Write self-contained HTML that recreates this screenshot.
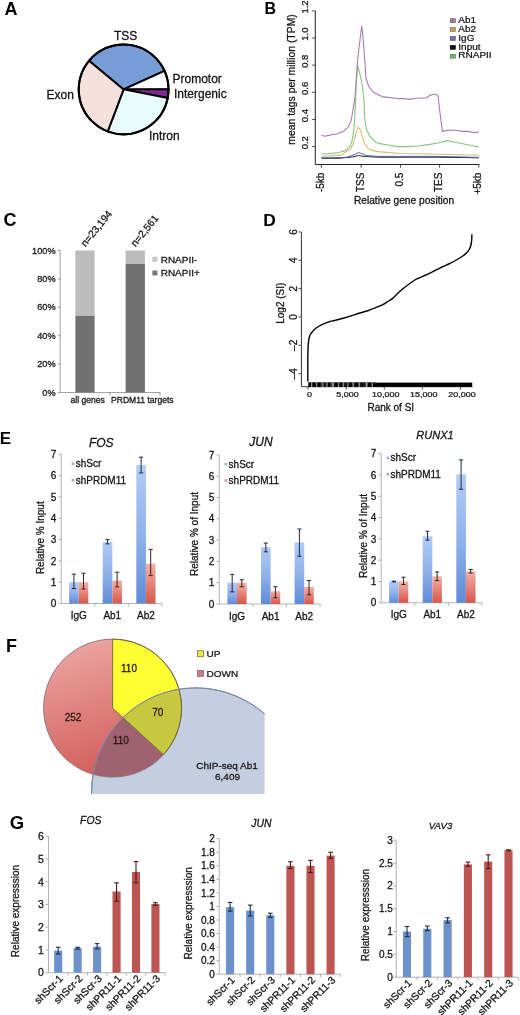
<!DOCTYPE html>
<html><head><meta charset="utf-8"><style>
html,body{margin:0;padding:0;background:#fff;}
svg{display:block;will-change:transform;}
text{font-family:"Liberation Sans",sans-serif;}
text.r{stroke:#222;stroke-width:0.28px;paint-order:stroke;}
</style></head><body>
<svg width="520" height="1015" viewBox="0 0 520 1015" font-family="Liberation Sans, sans-serif">
<defs><linearGradient id="gb" x1="0" y1="0" x2="0" y2="1"><stop offset="0" stop-color="#b2cbf5"/><stop offset="0.55" stop-color="#8dafea"/><stop offset="1" stop-color="#5e8ad8"/></linearGradient><linearGradient id="gr" x1="0" y1="0" x2="0" y2="1"><stop offset="0" stop-color="#f4b0a6"/><stop offset="1" stop-color="#d8564a"/></linearGradient><linearGradient id="gred" x1="0" y1="0" x2="0.3" y2="1"><stop offset="0" stop-color="#eeaaa8"/><stop offset="1" stop-color="#d2605c"/></linearGradient><clipPath id="cf"><rect x="0" y="0" width="264.6" height="794"/></clipPath><clipPath id="cred"><circle cx="112.6" cy="708.1" r="69"/></clipPath><clipPath id="cblue"><circle cx="195.7" cy="792.0" r="104.1"/></clipPath></defs>
<rect width="520" height="1015" fill="#fff"/>
<text x="4.50" y="15.00" font-size="18" text-anchor="start" font-weight="bold" font-style="normal" fill="#000">A</text>
<path d="M123.60,89.40 L164.49,70.85 A44.9,44.9 0 0 0 89.00,60.78 Z" fill="#789dd6" stroke="#000" stroke-width="1.9" stroke-linejoin="round"/>
<path d="M123.60,89.40 L168.50,89.16 A44.9,44.9 0 0 0 164.49,70.85 Z" fill="#ffffff" stroke="#000" stroke-width="1.9" stroke-linejoin="round"/>
<path d="M123.60,89.40 L167.66,98.04 A44.9,44.9 0 0 0 168.50,89.16 Z" fill="#7e2b8f" stroke="#000" stroke-width="1.9" stroke-linejoin="round"/>
<path d="M123.60,89.40 L107.73,131.40 A44.9,44.9 0 0 0 167.66,98.04 Z" fill="#e8fbfd" stroke="#000" stroke-width="1.9" stroke-linejoin="round"/>
<path d="M123.60,89.40 L89.00,60.78 A44.9,44.9 0 0 0 107.73,131.40 Z" fill="#f6e0de" stroke="#000" stroke-width="1.9" stroke-linejoin="round"/>
<circle cx="123.6" cy="89.4" r="44.9" fill="none" stroke="#000" stroke-width="2.0"/>
<text class="r" x="125.70" y="40.00" font-size="12" text-anchor="middle" font-weight="normal" font-style="normal" fill="#111">TSS</text>
<text class="r" x="172.50" y="82.50" font-size="12" text-anchor="start" font-weight="normal" font-style="normal" fill="#111">Promotor</text>
<text class="r" x="174.00" y="98.00" font-size="12" text-anchor="start" font-weight="normal" font-style="normal" fill="#111">Intergenic</text>
<text class="r" x="46.50" y="98.50" font-size="12" text-anchor="start" font-weight="normal" font-style="normal" fill="#111">Exon</text>
<text class="r" x="149.00" y="140.00" font-size="12" text-anchor="start" font-weight="normal" font-style="normal" fill="#111">Intron</text>
<text x="264.50" y="13.80" font-size="16" text-anchor="start" font-weight="bold" font-style="normal" fill="#000">B</text>
<line x1="315.30" y1="10.85" x2="315.30" y2="164.50" stroke="#222" stroke-width="1"/>
<line x1="315.30" y1="164.50" x2="479.40" y2="164.50" stroke="#222" stroke-width="1"/>
<line x1="312.10" y1="146.60" x2="315.30" y2="146.60" stroke="#222" stroke-width="0.8"/>
<text class="r" x="0.00" y="0.00" font-size="9.5" text-anchor="middle" font-weight="normal" font-style="normal" fill="#111" transform="translate(308.20,142.70) rotate(-90)">0.2</text>
<line x1="312.10" y1="119.45" x2="315.30" y2="119.45" stroke="#222" stroke-width="0.8"/>
<text class="r" x="0.00" y="0.00" font-size="9.5" text-anchor="middle" font-weight="normal" font-style="normal" fill="#111" transform="translate(308.20,115.55) rotate(-90)">0.4</text>
<line x1="312.10" y1="92.30" x2="315.30" y2="92.30" stroke="#222" stroke-width="0.8"/>
<text class="r" x="0.00" y="0.00" font-size="9.5" text-anchor="middle" font-weight="normal" font-style="normal" fill="#111" transform="translate(308.20,88.40) rotate(-90)">0.6</text>
<line x1="312.10" y1="65.15" x2="315.30" y2="65.15" stroke="#222" stroke-width="0.8"/>
<text class="r" x="0.00" y="0.00" font-size="9.5" text-anchor="middle" font-weight="normal" font-style="normal" fill="#111" transform="translate(308.20,61.25) rotate(-90)">0.8</text>
<line x1="312.10" y1="38.00" x2="315.30" y2="38.00" stroke="#222" stroke-width="0.8"/>
<text class="r" x="0.00" y="0.00" font-size="9.5" text-anchor="middle" font-weight="normal" font-style="normal" fill="#111" transform="translate(308.20,34.10) rotate(-90)">1.0</text>
<line x1="312.10" y1="10.85" x2="315.30" y2="10.85" stroke="#222" stroke-width="0.8"/>
<text class="r" x="0.00" y="0.00" font-size="9.5" text-anchor="middle" font-weight="normal" font-style="normal" fill="#111" transform="translate(308.20,6.95) rotate(-90)">1.2</text>
<line x1="321.40" y1="164.50" x2="321.40" y2="167.70" stroke="#222" stroke-width="0.8"/>
<text class="r" x="0.00" y="0.00" font-size="10" text-anchor="end" font-weight="normal" font-style="normal" fill="#111" transform="translate(324.00,172.60) rotate(-90)">-5kb</text>
<line x1="361.20" y1="164.50" x2="361.20" y2="167.70" stroke="#222" stroke-width="0.8"/>
<text class="r" x="0.00" y="0.00" font-size="10" text-anchor="end" font-weight="normal" font-style="normal" fill="#111" transform="translate(363.80,172.60) rotate(-90)">TSS</text>
<line x1="400.50" y1="164.50" x2="400.50" y2="167.70" stroke="#222" stroke-width="0.8"/>
<text class="r" x="0.00" y="0.00" font-size="10" text-anchor="end" font-weight="normal" font-style="normal" fill="#111" transform="translate(403.10,172.60) rotate(-90)">0.5</text>
<line x1="439.60" y1="164.50" x2="439.60" y2="167.70" stroke="#222" stroke-width="0.8"/>
<text class="r" x="0.00" y="0.00" font-size="10" text-anchor="end" font-weight="normal" font-style="normal" fill="#111" transform="translate(442.20,172.60) rotate(-90)">TES</text>
<line x1="478.80" y1="164.50" x2="478.80" y2="167.70" stroke="#222" stroke-width="0.8"/>
<text class="r" x="0.00" y="0.00" font-size="10" text-anchor="end" font-weight="normal" font-style="normal" fill="#111" transform="translate(481.40,172.60) rotate(-90)">+5kb</text>
<text class="r" x="404.00" y="203.70" font-size="10.2" text-anchor="middle" font-weight="normal" font-style="normal" fill="#111">Relative gene position</text>
<text class="r" x="0.00" y="0.00" font-size="10.4" text-anchor="middle" font-weight="normal" font-style="normal" fill="#111" transform="translate(294.50,79.50) rotate(-90)">mean tags per million (TPM)</text>
<polyline points="321.50,158.30 340.00,158.20 352.60,156.90 358.40,155.60 364.20,156.40 378.00,157.20 438.00,157.20 479.00,157.80" fill="none" stroke="#222" stroke-width="1.0" stroke-linejoin="round"/>
<polyline points="321.50,157.90 346.80,157.30 354.90,154.40 358.40,152.60 361.80,153.60 366.50,155.60 378.00,156.40 438.00,156.40 479.00,157.40" fill="none" stroke="#5560aa" stroke-width="1.0" stroke-linejoin="round"/>
<polyline points="321.50,156.20 341.00,155.10 344.50,152.80 350.30,149.20 353.80,142.30 356.10,133.10 357.80,127.10 360.10,129.60 362.40,136.50 364.70,143.50 367.60,148.10 372.20,150.40 378.00,151.60 400.00,153.50 440.00,154.20 479.00,155.20" fill="none" stroke="#d4c070" stroke-width="1.1" stroke-linejoin="round"/>
<polyline points="321.50,153.80 329.50,153.60 338.80,152.50 345.70,150.40 349.70,146.90 352.00,141.20 353.80,130.80 354.70,119.20 355.20,110.00 356.20,84.20 357.70,65.80 360.20,75.00 362.50,86.50 364.20,102.70 364.70,118.00 366.50,129.60 369.90,136.50 374.50,141.20 378.00,143.40 388.00,145.00 398.00,146.60 408.00,146.60 418.00,146.00 428.00,144.60 438.00,143.00 447.00,140.60 454.00,142.00 464.00,144.00 474.00,146.00 479.00,147.00" fill="none" stroke="#88c284" stroke-width="1.1" stroke-linejoin="round"/>
<polyline points="321.50,135.20 324.90,136.30 327.20,135.60 331.80,134.80 337.60,133.70 343.40,131.30 348.00,127.30 350.90,121.50 352.30,114.40 355.00,98.10 357.30,63.50 358.50,51.90 360.20,38.10 361.70,26.00 363.10,38.10 364.80,61.20 366.00,78.50 368.80,86.50 373.50,92.30 378.00,94.50 382.00,96.60 388.00,97.40 393.00,98.00 398.00,98.60 404.00,98.60 410.00,99.40 416.00,98.20 421.00,98.00 426.00,98.00 430.00,95.40 435.00,94.00 438.00,95.40 440.00,113.00 442.40,131.40 446.00,130.60 454.00,130.00 462.00,131.40 468.00,131.40 474.00,132.60 479.00,132.00" fill="none" stroke="#a67fac" stroke-width="1.1" stroke-linejoin="round"/>
<rect x="450.20" y="18.70" width="5.20" height="3.90" fill="#9f7a9c" stroke="#6a4a66" stroke-width="0.6"/>
<text class="r" x="0.00" y="0.00" font-size="10" text-anchor="start" font-weight="normal" font-style="normal" fill="#111" transform="translate(458.30,22.80) scale(1,0.87)">Ab1</text>
<rect x="450.20" y="27.60" width="5.20" height="3.90" fill="#bba060" stroke="#7a6a3a" stroke-width="0.6"/>
<text class="r" x="0.00" y="0.00" font-size="10" text-anchor="start" font-weight="normal" font-style="normal" fill="#111" transform="translate(458.30,31.70) scale(1,0.87)">Ab2</text>
<rect x="450.20" y="36.50" width="5.20" height="3.90" fill="#6c74aa" stroke="#454c80" stroke-width="0.6"/>
<text class="r" x="0.00" y="0.00" font-size="10" text-anchor="start" font-weight="normal" font-style="normal" fill="#111" transform="translate(458.30,40.60) scale(1,0.87)">IgG</text>
<rect x="450.20" y="45.40" width="5.20" height="3.90" fill="#111" stroke="#000" stroke-width="0.6"/>
<text class="r" x="0.00" y="0.00" font-size="10" text-anchor="start" font-weight="normal" font-style="normal" fill="#111" transform="translate(458.30,49.50) scale(1,0.87)">Input</text>
<rect x="450.20" y="54.30" width="5.20" height="3.90" fill="#7eaa78" stroke="#4e7a4a" stroke-width="0.6"/>
<text class="r" x="0.00" y="0.00" font-size="10" text-anchor="start" font-weight="normal" font-style="normal" fill="#111" transform="translate(458.30,58.40) scale(1,0.87)">RNAPII</text>
<text x="3.60" y="225.80" font-size="18" text-anchor="start" font-weight="bold" font-style="normal" fill="#000">C</text>
<line x1="60.20" y1="250.50" x2="60.20" y2="392.50" stroke="#999" stroke-width="0.9"/>
<line x1="60.20" y1="392.50" x2="160.00" y2="392.50" stroke="#999" stroke-width="0.9"/>
<line x1="58.00" y1="392.50" x2="60.20" y2="392.50" stroke="#888" stroke-width="0.9"/>
<text class="r" x="0.00" y="0.00" font-size="9.2" text-anchor="end" font-weight="normal" font-style="normal" fill="#111" transform="translate(55.60,395.60) scale(1,0.93)">0%</text>
<line x1="58.00" y1="364.10" x2="60.20" y2="364.10" stroke="#888" stroke-width="0.9"/>
<text class="r" x="0.00" y="0.00" font-size="9.2" text-anchor="end" font-weight="normal" font-style="normal" fill="#111" transform="translate(55.60,367.20) scale(1,0.93)">20%</text>
<line x1="58.00" y1="335.70" x2="60.20" y2="335.70" stroke="#888" stroke-width="0.9"/>
<text class="r" x="0.00" y="0.00" font-size="9.2" text-anchor="end" font-weight="normal" font-style="normal" fill="#111" transform="translate(55.60,338.80) scale(1,0.93)">40%</text>
<line x1="58.00" y1="307.30" x2="60.20" y2="307.30" stroke="#888" stroke-width="0.9"/>
<text class="r" x="0.00" y="0.00" font-size="9.2" text-anchor="end" font-weight="normal" font-style="normal" fill="#111" transform="translate(55.60,310.40) scale(1,0.93)">60%</text>
<line x1="58.00" y1="278.90" x2="60.20" y2="278.90" stroke="#888" stroke-width="0.9"/>
<text class="r" x="0.00" y="0.00" font-size="9.2" text-anchor="end" font-weight="normal" font-style="normal" fill="#111" transform="translate(55.60,282.00) scale(1,0.93)">80%</text>
<line x1="58.00" y1="250.50" x2="60.20" y2="250.50" stroke="#888" stroke-width="0.9"/>
<text class="r" x="0.00" y="0.00" font-size="9.2" text-anchor="end" font-weight="normal" font-style="normal" fill="#111" transform="translate(55.60,253.60) scale(1,0.93)">100%</text>
<line x1="110.00" y1="392.50" x2="110.00" y2="395.50" stroke="#888" stroke-width="0.9"/>
<line x1="160.00" y1="392.50" x2="160.00" y2="395.50" stroke="#888" stroke-width="0.9"/>
<rect x="75.40" y="250.50" width="19.20" height="65.32" fill="#bcbcbc" stroke="none" stroke-width="1"/>
<rect x="75.40" y="315.82" width="19.20" height="76.68" fill="#717171" stroke="none" stroke-width="1"/>
<rect x="125.60" y="250.50" width="19.30" height="13.49" fill="#bcbcbc" stroke="none" stroke-width="1"/>
<rect x="125.60" y="263.99" width="19.30" height="128.51" fill="#717171" stroke="none" stroke-width="1"/>
<text class="r" x="87.70" y="403.00" font-size="8.6" text-anchor="middle" font-weight="normal" font-style="normal" fill="#111">all genes</text>
<text class="r" x="142.30" y="403.00" font-size="8.55" text-anchor="middle" font-weight="normal" font-style="normal" fill="#111">PRDM11 targets</text>
<text class="r" x="0.00" y="0.00" font-size="10.2" text-anchor="start" font-weight="normal" font-style="normal" fill="#111" transform="translate(85.60,247.30) rotate(-51)">n=23,194</text>
<text class="r" x="0.00" y="0.00" font-size="10.2" text-anchor="start" font-weight="normal" font-style="normal" fill="#111" transform="translate(135.60,247.30) rotate(-51)">n=2,561</text>
<rect x="152.40" y="256.80" width="5.00" height="5.00" fill="#c4c4c4" stroke="none" stroke-width="1"/>
<text class="r" x="0.00" y="0.00" font-size="10" text-anchor="start" font-weight="normal" font-style="normal" fill="#111" transform="translate(160.70,263.20) scale(1,0.93)">RNAPII-</text>
<rect x="152.40" y="270.50" width="5.00" height="5.00" fill="#7a7a7a" stroke="none" stroke-width="1"/>
<text class="r" x="0.00" y="0.00" font-size="10" text-anchor="start" font-weight="normal" font-style="normal" fill="#111" transform="translate(160.70,275.80) scale(1,0.93)">RNAPII+</text>
<text x="263.20" y="225.60" font-size="17.4" text-anchor="start" font-weight="bold" font-style="normal" fill="#000">D</text>
<line x1="301.40" y1="231.95" x2="301.40" y2="386.70" stroke="#333" stroke-width="1"/>
<line x1="301.40" y1="386.70" x2="472.50" y2="386.70" stroke="#333" stroke-width="1"/>
<line x1="298.40" y1="231.95" x2="301.40" y2="231.95" stroke="#333" stroke-width="0.8"/>
<text class="r" x="0.00" y="0.00" font-size="10" text-anchor="middle" font-weight="normal" font-style="normal" fill="#111" transform="translate(297.00,231.95) rotate(-90)">6</text>
<line x1="298.40" y1="260.30" x2="301.40" y2="260.30" stroke="#333" stroke-width="0.8"/>
<text class="r" x="0.00" y="0.00" font-size="10" text-anchor="middle" font-weight="normal" font-style="normal" fill="#111" transform="translate(297.00,260.30) rotate(-90)">4</text>
<line x1="298.40" y1="288.65" x2="301.40" y2="288.65" stroke="#333" stroke-width="0.8"/>
<text class="r" x="0.00" y="0.00" font-size="10" text-anchor="middle" font-weight="normal" font-style="normal" fill="#111" transform="translate(297.00,288.65) rotate(-90)">2</text>
<line x1="298.40" y1="317.00" x2="301.40" y2="317.00" stroke="#333" stroke-width="0.8"/>
<text class="r" x="0.00" y="0.00" font-size="10" text-anchor="middle" font-weight="normal" font-style="normal" fill="#111" transform="translate(297.00,317.00) rotate(-90)">0</text>
<line x1="298.40" y1="345.35" x2="301.40" y2="345.35" stroke="#333" stroke-width="0.8"/>
<text class="r" x="0.00" y="0.00" font-size="10" text-anchor="middle" font-weight="normal" font-style="normal" fill="#111" transform="translate(297.00,345.35) rotate(-90)">&#8211;2</text>
<line x1="298.40" y1="373.70" x2="301.40" y2="373.70" stroke="#333" stroke-width="0.8"/>
<text class="r" x="0.00" y="0.00" font-size="10" text-anchor="middle" font-weight="normal" font-style="normal" fill="#111" transform="translate(297.00,373.70) rotate(-90)">&#8211;4</text>
<line x1="308.10" y1="386.70" x2="308.10" y2="389.70" stroke="#333" stroke-width="0.8"/>
<text class="r" x="0.00" y="0.00" font-size="9" text-anchor="middle" font-weight="normal" font-style="normal" fill="#111" transform="translate(309.50,396.70) scale(1,0.88)">0</text>
<line x1="346.20" y1="386.70" x2="346.20" y2="389.70" stroke="#333" stroke-width="0.8"/>
<text class="r" x="0.00" y="0.00" font-size="9" text-anchor="middle" font-weight="normal" font-style="normal" fill="#111" transform="translate(347.60,396.70) scale(1,0.88)">5,000</text>
<line x1="384.30" y1="386.70" x2="384.30" y2="389.70" stroke="#333" stroke-width="0.8"/>
<text class="r" x="0.00" y="0.00" font-size="9" text-anchor="middle" font-weight="normal" font-style="normal" fill="#111" transform="translate(385.70,396.70) scale(1,0.88)">10,000</text>
<line x1="422.40" y1="386.70" x2="422.40" y2="389.70" stroke="#333" stroke-width="0.8"/>
<text class="r" x="0.00" y="0.00" font-size="9" text-anchor="middle" font-weight="normal" font-style="normal" fill="#111" transform="translate(423.80,396.70) scale(1,0.88)">15,000</text>
<line x1="460.50" y1="386.70" x2="460.50" y2="389.70" stroke="#333" stroke-width="0.8"/>
<text class="r" x="0.00" y="0.00" font-size="9" text-anchor="middle" font-weight="normal" font-style="normal" fill="#111" transform="translate(461.90,396.70) scale(1,0.88)">20,000</text>
<text class="r" x="390.80" y="411.30" font-size="10" text-anchor="middle" font-weight="normal" font-style="normal" fill="#111">Rank of SI</text>
<text class="r" x="0.00" y="0.00" font-size="10" text-anchor="middle" font-weight="normal" font-style="normal" fill="#111" transform="translate(283.60,303.20) rotate(-90)">Log2 (SI)</text>
<rect x="308.00" y="382.60" width="164.20" height="4.30" fill="#000" stroke="none" stroke-width="1"/>
<rect x="308.00" y="382.60" width="67.00" height="4.30" fill="#3c3c3c" stroke="none" stroke-width="1"/>
<rect x="309.00" y="382.60" width="2.00" height="4.30" fill="#000" stroke="none" stroke-width="1"/>
<rect x="312.70" y="382.60" width="2.90" height="4.30" fill="#000" stroke="none" stroke-width="1"/>
<rect x="317.50" y="382.60" width="3.20" height="4.30" fill="#000" stroke="none" stroke-width="1"/>
<rect x="323.50" y="382.60" width="2.00" height="4.30" fill="#111" stroke="none" stroke-width="1"/>
<rect x="327.80" y="382.60" width="2.40" height="4.30" fill="#000" stroke="none" stroke-width="1"/>
<rect x="334.50" y="382.60" width="3.00" height="4.30" fill="#000" stroke="none" stroke-width="1"/>
<rect x="339.50" y="382.60" width="2.60" height="4.30" fill="#000" stroke="none" stroke-width="1"/>
<rect x="344.40" y="382.60" width="2.60" height="4.30" fill="#111" stroke="none" stroke-width="1"/>
<rect x="348.50" y="382.60" width="3.50" height="4.30" fill="#000" stroke="none" stroke-width="1"/>
<rect x="354.60" y="382.60" width="3.50" height="4.30" fill="#000" stroke="none" stroke-width="1"/>
<rect x="360.00" y="382.60" width="5.00" height="4.30" fill="#111" stroke="none" stroke-width="1"/>
<rect x="368.00" y="382.60" width="3.40" height="4.30" fill="#000" stroke="none" stroke-width="1"/>
<rect x="373.00" y="382.60" width="2.00" height="4.30" fill="#000" stroke="none" stroke-width="1"/>
<rect x="311.00" y="382.60" width="0.90" height="4.30" fill="#9a9a9a" stroke="none" stroke-width="1"/>
<rect x="316.20" y="382.60" width="0.90" height="4.30" fill="#9a9a9a" stroke="none" stroke-width="1"/>
<rect x="322.40" y="382.60" width="0.90" height="4.30" fill="#9a9a9a" stroke="none" stroke-width="1"/>
<rect x="326.70" y="382.60" width="0.80" height="4.30" fill="#9a9a9a" stroke="none" stroke-width="1"/>
<rect x="332.20" y="382.60" width="1.60" height="4.30" fill="#9a9a9a" stroke="none" stroke-width="1"/>
<rect x="338.30" y="382.60" width="0.80" height="4.30" fill="#9a9a9a" stroke="none" stroke-width="1"/>
<rect x="343.20" y="382.60" width="0.80" height="4.30" fill="#9a9a9a" stroke="none" stroke-width="1"/>
<rect x="347.50" y="382.60" width="0.80" height="4.30" fill="#9a9a9a" stroke="none" stroke-width="1"/>
<rect x="352.70" y="382.60" width="1.00" height="4.30" fill="#9a9a9a" stroke="none" stroke-width="1"/>
<rect x="358.70" y="382.60" width="1.00" height="4.30" fill="#9a9a9a" stroke="none" stroke-width="1"/>
<rect x="365.90" y="382.60" width="1.40" height="4.30" fill="#9a9a9a" stroke="none" stroke-width="1"/>
<rect x="371.80" y="382.60" width="0.90" height="4.30" fill="#9a9a9a" stroke="none" stroke-width="1"/>
<path d="M307.80,381.50 C307.80,377.53 307.75,363.58 307.80,357.70 C307.85,351.82 307.95,349.08 308.10,346.20 C308.25,343.32 308.42,342.13 308.70,340.40 C308.98,338.67 309.33,337.05 309.80,335.80 C310.27,334.55 310.73,333.97 311.50,332.90 C312.27,331.83 313.23,330.47 314.40,329.40 C315.57,328.33 317.05,327.37 318.50,326.50 C319.95,325.63 321.38,324.97 323.10,324.20 C324.82,323.43 327.17,322.47 328.80,321.90 C330.43,321.33 331.93,321.03 332.90,320.80 C333.87,320.57 333.35,320.80 334.60,320.50 C335.85,320.20 338.47,319.53 340.40,319.00 C342.33,318.47 344.28,317.87 346.20,317.30 C348.12,316.73 350.43,316.05 351.90,315.60 C353.37,315.15 353.37,315.12 355.00,314.60 C356.63,314.08 359.45,313.18 361.70,312.50 C363.95,311.82 366.25,311.28 368.50,310.50 C370.75,309.72 372.97,308.70 375.20,307.80 C377.43,306.90 379.67,306.23 381.90,305.10 C384.13,303.97 386.80,302.12 388.60,301.00 C390.40,299.88 391.12,299.73 392.70,298.40 C394.28,297.07 396.30,294.68 398.10,293.00 C399.90,291.32 401.72,289.77 403.50,288.30 C405.28,286.83 406.78,285.67 408.80,284.20 C410.82,282.73 413.73,280.60 415.60,279.50 C417.47,278.40 418.30,278.35 420.00,277.60 C421.70,276.85 423.88,275.88 425.80,275.00 C427.72,274.12 429.58,273.23 431.50,272.30 C433.42,271.37 435.37,270.37 437.30,269.40 C439.23,268.43 441.18,267.40 443.10,266.50 C445.02,265.60 446.88,264.92 448.80,264.00 C450.72,263.08 452.67,262.08 454.60,261.00 C456.53,259.92 458.67,258.60 460.40,257.50 C462.13,256.40 463.65,255.55 465.00,254.40 C466.35,253.25 467.53,252.03 468.50,250.60 C469.47,249.17 470.27,247.57 470.80,245.80 C471.33,244.03 471.52,241.93 471.70,240.00 C471.88,238.07 471.87,235.17 471.90,234.20" fill="none" stroke="#000" stroke-width="1.4" stroke-linejoin="round"/>
<text x="-0.20" y="444.40" font-size="17" text-anchor="start" font-weight="bold" font-style="normal" fill="#000">E</text>
<line x1="61.20" y1="454.40" x2="61.20" y2="603.50" stroke="#aaa" stroke-width="0.9"/>
<line x1="61.20" y1="603.50" x2="162.00" y2="603.50" stroke="#aaa" stroke-width="0.9"/>
<line x1="58.20" y1="603.50" x2="61.20" y2="603.50" stroke="#aaa" stroke-width="0.9"/>
<text class="r" x="56.20" y="607.10" font-size="10" text-anchor="end" font-weight="normal" font-style="normal" fill="#111">0</text>
<line x1="58.20" y1="582.20" x2="61.20" y2="582.20" stroke="#aaa" stroke-width="0.9"/>
<text class="r" x="56.20" y="585.80" font-size="10" text-anchor="end" font-weight="normal" font-style="normal" fill="#111">1</text>
<line x1="58.20" y1="560.90" x2="61.20" y2="560.90" stroke="#aaa" stroke-width="0.9"/>
<text class="r" x="56.20" y="564.50" font-size="10" text-anchor="end" font-weight="normal" font-style="normal" fill="#111">2</text>
<line x1="58.20" y1="539.60" x2="61.20" y2="539.60" stroke="#aaa" stroke-width="0.9"/>
<text class="r" x="56.20" y="543.20" font-size="10" text-anchor="end" font-weight="normal" font-style="normal" fill="#111">3</text>
<line x1="58.20" y1="518.30" x2="61.20" y2="518.30" stroke="#aaa" stroke-width="0.9"/>
<text class="r" x="56.20" y="521.90" font-size="10" text-anchor="end" font-weight="normal" font-style="normal" fill="#111">4</text>
<line x1="58.20" y1="497.00" x2="61.20" y2="497.00" stroke="#aaa" stroke-width="0.9"/>
<text class="r" x="56.20" y="500.60" font-size="10" text-anchor="end" font-weight="normal" font-style="normal" fill="#111">5</text>
<line x1="58.20" y1="475.70" x2="61.20" y2="475.70" stroke="#aaa" stroke-width="0.9"/>
<text class="r" x="56.20" y="479.30" font-size="10" text-anchor="end" font-weight="normal" font-style="normal" fill="#111">6</text>
<line x1="58.20" y1="454.40" x2="61.20" y2="454.40" stroke="#aaa" stroke-width="0.9"/>
<text class="r" x="56.20" y="458.00" font-size="10" text-anchor="end" font-weight="normal" font-style="normal" fill="#111">7</text>
<line x1="94.80" y1="603.50" x2="94.80" y2="606.50" stroke="#aaa" stroke-width="0.9"/>
<line x1="128.40" y1="603.50" x2="128.40" y2="606.50" stroke="#aaa" stroke-width="0.9"/>
<line x1="162.00" y1="603.50" x2="162.00" y2="606.50" stroke="#aaa" stroke-width="0.9"/>
<rect x="69.10" y="582.20" width="9.60" height="21.30" fill="url(#gb)" stroke="none" stroke-width="1"/>
<rect x="78.70" y="582.20" width="9.60" height="21.30" fill="url(#gr)" stroke="none" stroke-width="1"/>
<line x1="73.90" y1="574.11" x2="73.90" y2="588.59" stroke="#1c2c48" stroke-width="1"/>
<line x1="71.80" y1="574.11" x2="76.00" y2="574.11" stroke="#1c2c48" stroke-width="1"/>
<line x1="71.80" y1="588.59" x2="76.00" y2="588.59" stroke="#1c2c48" stroke-width="1"/>
<line x1="83.50" y1="573.25" x2="83.50" y2="589.02" stroke="#3a2222" stroke-width="1"/>
<line x1="81.40" y1="573.25" x2="85.60" y2="573.25" stroke="#3a2222" stroke-width="1"/>
<line x1="81.40" y1="589.02" x2="85.60" y2="589.02" stroke="#3a2222" stroke-width="1"/>
<text class="r" x="78.70" y="619.00" font-size="10" text-anchor="middle" font-weight="normal" font-style="normal" fill="#111">IgG</text>
<rect x="102.70" y="542.16" width="9.60" height="61.34" fill="url(#gb)" stroke="none" stroke-width="1"/>
<rect x="112.30" y="580.50" width="9.60" height="23.00" fill="url(#gr)" stroke="none" stroke-width="1"/>
<line x1="107.50" y1="539.60" x2="107.50" y2="543.86" stroke="#1c2c48" stroke-width="1"/>
<line x1="105.40" y1="539.60" x2="109.60" y2="539.60" stroke="#1c2c48" stroke-width="1"/>
<line x1="105.40" y1="543.86" x2="109.60" y2="543.86" stroke="#1c2c48" stroke-width="1"/>
<line x1="117.10" y1="572.19" x2="117.10" y2="586.89" stroke="#3a2222" stroke-width="1"/>
<line x1="115.00" y1="572.19" x2="119.20" y2="572.19" stroke="#3a2222" stroke-width="1"/>
<line x1="115.00" y1="586.89" x2="119.20" y2="586.89" stroke="#3a2222" stroke-width="1"/>
<text class="r" x="112.30" y="619.00" font-size="10" text-anchor="middle" font-weight="normal" font-style="normal" fill="#111">Ab1</text>
<rect x="136.30" y="465.05" width="9.60" height="138.45" fill="url(#gb)" stroke="none" stroke-width="1"/>
<rect x="145.90" y="563.67" width="9.60" height="39.83" fill="url(#gr)" stroke="none" stroke-width="1"/>
<line x1="141.10" y1="457.17" x2="141.10" y2="472.93" stroke="#1c2c48" stroke-width="1"/>
<line x1="139.00" y1="457.17" x2="143.20" y2="457.17" stroke="#1c2c48" stroke-width="1"/>
<line x1="139.00" y1="472.93" x2="143.20" y2="472.93" stroke="#1c2c48" stroke-width="1"/>
<line x1="150.70" y1="549.40" x2="150.70" y2="575.60" stroke="#3a2222" stroke-width="1"/>
<line x1="148.60" y1="549.40" x2="152.80" y2="549.40" stroke="#3a2222" stroke-width="1"/>
<line x1="148.60" y1="575.60" x2="152.80" y2="575.60" stroke="#3a2222" stroke-width="1"/>
<text class="r" x="145.90" y="619.00" font-size="10" text-anchor="middle" font-weight="normal" font-style="normal" fill="#111">Ab2</text>
<text class="r" x="101.30" y="446.50" font-size="12" text-anchor="middle" font-weight="normal" font-style="italic" fill="#111">FOS</text>
<text class="r" x="0.00" y="0.00" font-size="10" text-anchor="middle" font-weight="normal" font-style="normal" fill="#111" transform="translate(43.50,537.70) rotate(-90)">Relative % Input</text>
<rect x="71.70" y="462.50" width="2.60" height="2.80" fill="#9cb4e0" stroke="none" stroke-width="1"/>
<text class="r" x="75.70" y="467.30" font-size="10" text-anchor="start" font-weight="normal" font-style="normal" fill="#111">shScr</text>
<rect x="71.70" y="478.90" width="2.60" height="2.80" fill="#d8a09c" stroke="none" stroke-width="1"/>
<text class="r" x="75.70" y="483.70" font-size="10" text-anchor="start" font-weight="normal" font-style="normal" fill="#111">shPRDM11</text>
<line x1="219.30" y1="454.90" x2="219.30" y2="604.00" stroke="#aaa" stroke-width="0.9"/>
<line x1="219.30" y1="604.00" x2="320.10" y2="604.00" stroke="#aaa" stroke-width="0.9"/>
<line x1="216.30" y1="604.00" x2="219.30" y2="604.00" stroke="#aaa" stroke-width="0.9"/>
<text class="r" x="214.30" y="607.60" font-size="10" text-anchor="end" font-weight="normal" font-style="normal" fill="#111">0</text>
<line x1="216.30" y1="582.70" x2="219.30" y2="582.70" stroke="#aaa" stroke-width="0.9"/>
<text class="r" x="214.30" y="586.30" font-size="10" text-anchor="end" font-weight="normal" font-style="normal" fill="#111">1</text>
<line x1="216.30" y1="561.40" x2="219.30" y2="561.40" stroke="#aaa" stroke-width="0.9"/>
<text class="r" x="214.30" y="565.00" font-size="10" text-anchor="end" font-weight="normal" font-style="normal" fill="#111">2</text>
<line x1="216.30" y1="540.10" x2="219.30" y2="540.10" stroke="#aaa" stroke-width="0.9"/>
<text class="r" x="214.30" y="543.70" font-size="10" text-anchor="end" font-weight="normal" font-style="normal" fill="#111">3</text>
<line x1="216.30" y1="518.80" x2="219.30" y2="518.80" stroke="#aaa" stroke-width="0.9"/>
<text class="r" x="214.30" y="522.40" font-size="10" text-anchor="end" font-weight="normal" font-style="normal" fill="#111">4</text>
<line x1="216.30" y1="497.50" x2="219.30" y2="497.50" stroke="#aaa" stroke-width="0.9"/>
<text class="r" x="214.30" y="501.10" font-size="10" text-anchor="end" font-weight="normal" font-style="normal" fill="#111">5</text>
<line x1="216.30" y1="476.20" x2="219.30" y2="476.20" stroke="#aaa" stroke-width="0.9"/>
<text class="r" x="214.30" y="479.80" font-size="10" text-anchor="end" font-weight="normal" font-style="normal" fill="#111">6</text>
<line x1="216.30" y1="454.90" x2="219.30" y2="454.90" stroke="#aaa" stroke-width="0.9"/>
<text class="r" x="214.30" y="458.50" font-size="10" text-anchor="end" font-weight="normal" font-style="normal" fill="#111">7</text>
<line x1="252.90" y1="604.00" x2="252.90" y2="607.00" stroke="#aaa" stroke-width="0.9"/>
<line x1="286.50" y1="604.00" x2="286.50" y2="607.00" stroke="#aaa" stroke-width="0.9"/>
<line x1="320.10" y1="604.00" x2="320.10" y2="607.00" stroke="#aaa" stroke-width="0.9"/>
<rect x="227.40" y="582.70" width="9.60" height="21.30" fill="url(#gb)" stroke="none" stroke-width="1"/>
<rect x="237.00" y="582.70" width="9.60" height="21.30" fill="url(#gr)" stroke="none" stroke-width="1"/>
<line x1="232.20" y1="574.39" x2="232.20" y2="591.86" stroke="#1c2c48" stroke-width="1"/>
<line x1="230.10" y1="574.39" x2="234.30" y2="574.39" stroke="#1c2c48" stroke-width="1"/>
<line x1="230.10" y1="591.86" x2="234.30" y2="591.86" stroke="#1c2c48" stroke-width="1"/>
<line x1="241.80" y1="579.72" x2="241.80" y2="586.75" stroke="#3a2222" stroke-width="1"/>
<line x1="239.70" y1="579.72" x2="243.90" y2="579.72" stroke="#3a2222" stroke-width="1"/>
<line x1="239.70" y1="586.75" x2="243.90" y2="586.75" stroke="#3a2222" stroke-width="1"/>
<text class="r" x="237.00" y="619.50" font-size="10" text-anchor="middle" font-weight="normal" font-style="normal" fill="#111">IgG</text>
<rect x="261.00" y="547.13" width="9.60" height="56.87" fill="url(#gb)" stroke="none" stroke-width="1"/>
<rect x="270.60" y="591.22" width="9.60" height="12.78" fill="url(#gr)" stroke="none" stroke-width="1"/>
<line x1="265.80" y1="543.08" x2="265.80" y2="551.82" stroke="#1c2c48" stroke-width="1"/>
<line x1="263.70" y1="543.08" x2="267.90" y2="543.08" stroke="#1c2c48" stroke-width="1"/>
<line x1="263.70" y1="551.82" x2="267.90" y2="551.82" stroke="#1c2c48" stroke-width="1"/>
<line x1="275.40" y1="586.75" x2="275.40" y2="597.82" stroke="#3a2222" stroke-width="1"/>
<line x1="273.30" y1="586.75" x2="277.50" y2="586.75" stroke="#3a2222" stroke-width="1"/>
<line x1="273.30" y1="597.82" x2="277.50" y2="597.82" stroke="#3a2222" stroke-width="1"/>
<text class="r" x="270.60" y="619.50" font-size="10" text-anchor="middle" font-weight="normal" font-style="normal" fill="#111">Ab1</text>
<rect x="294.60" y="542.44" width="9.60" height="61.56" fill="url(#gb)" stroke="none" stroke-width="1"/>
<rect x="304.20" y="586.96" width="9.60" height="17.04" fill="url(#gr)" stroke="none" stroke-width="1"/>
<line x1="299.40" y1="529.02" x2="299.40" y2="556.29" stroke="#1c2c48" stroke-width="1"/>
<line x1="297.30" y1="529.02" x2="301.50" y2="529.02" stroke="#1c2c48" stroke-width="1"/>
<line x1="297.30" y1="556.29" x2="301.50" y2="556.29" stroke="#1c2c48" stroke-width="1"/>
<line x1="309.00" y1="580.57" x2="309.00" y2="594.84" stroke="#3a2222" stroke-width="1"/>
<line x1="306.90" y1="580.57" x2="311.10" y2="580.57" stroke="#3a2222" stroke-width="1"/>
<line x1="306.90" y1="594.84" x2="311.10" y2="594.84" stroke="#3a2222" stroke-width="1"/>
<text class="r" x="304.20" y="619.50" font-size="10" text-anchor="middle" font-weight="normal" font-style="normal" fill="#111">Ab2</text>
<text class="r" x="260.90" y="446.30" font-size="12" text-anchor="middle" font-weight="normal" font-style="italic" fill="#111">JUN</text>
<text class="r" x="0.00" y="0.00" font-size="10" text-anchor="middle" font-weight="normal" font-style="normal" fill="#111" transform="translate(198.00,534.00) rotate(-90)">Relative % of Input</text>
<rect x="224.60" y="462.70" width="2.60" height="2.80" fill="#9cb4e0" stroke="none" stroke-width="1"/>
<text class="r" x="228.60" y="467.50" font-size="10" text-anchor="start" font-weight="normal" font-style="normal" fill="#111">shScr</text>
<rect x="224.60" y="479.10" width="2.60" height="2.80" fill="#d8a09c" stroke="none" stroke-width="1"/>
<text class="r" x="228.60" y="483.90" font-size="10" text-anchor="start" font-weight="normal" font-style="normal" fill="#111">shPRDM11</text>
<line x1="381.20" y1="453.70" x2="381.20" y2="602.80" stroke="#aaa" stroke-width="0.9"/>
<line x1="381.20" y1="602.80" x2="482.00" y2="602.80" stroke="#aaa" stroke-width="0.9"/>
<line x1="378.20" y1="602.80" x2="381.20" y2="602.80" stroke="#aaa" stroke-width="0.9"/>
<text class="r" x="376.20" y="606.40" font-size="10" text-anchor="end" font-weight="normal" font-style="normal" fill="#111">0</text>
<line x1="378.20" y1="581.50" x2="381.20" y2="581.50" stroke="#aaa" stroke-width="0.9"/>
<text class="r" x="376.20" y="585.10" font-size="10" text-anchor="end" font-weight="normal" font-style="normal" fill="#111">1</text>
<line x1="378.20" y1="560.20" x2="381.20" y2="560.20" stroke="#aaa" stroke-width="0.9"/>
<text class="r" x="376.20" y="563.80" font-size="10" text-anchor="end" font-weight="normal" font-style="normal" fill="#111">2</text>
<line x1="378.20" y1="538.90" x2="381.20" y2="538.90" stroke="#aaa" stroke-width="0.9"/>
<text class="r" x="376.20" y="542.50" font-size="10" text-anchor="end" font-weight="normal" font-style="normal" fill="#111">3</text>
<line x1="378.20" y1="517.60" x2="381.20" y2="517.60" stroke="#aaa" stroke-width="0.9"/>
<text class="r" x="376.20" y="521.20" font-size="10" text-anchor="end" font-weight="normal" font-style="normal" fill="#111">4</text>
<line x1="378.20" y1="496.30" x2="381.20" y2="496.30" stroke="#aaa" stroke-width="0.9"/>
<text class="r" x="376.20" y="499.90" font-size="10" text-anchor="end" font-weight="normal" font-style="normal" fill="#111">5</text>
<line x1="378.20" y1="475.00" x2="381.20" y2="475.00" stroke="#aaa" stroke-width="0.9"/>
<text class="r" x="376.20" y="478.60" font-size="10" text-anchor="end" font-weight="normal" font-style="normal" fill="#111">6</text>
<line x1="378.20" y1="453.70" x2="381.20" y2="453.70" stroke="#aaa" stroke-width="0.9"/>
<text class="r" x="376.20" y="457.30" font-size="10" text-anchor="end" font-weight="normal" font-style="normal" fill="#111">7</text>
<line x1="414.80" y1="602.80" x2="414.80" y2="605.80" stroke="#aaa" stroke-width="0.9"/>
<line x1="448.40" y1="602.80" x2="448.40" y2="605.80" stroke="#aaa" stroke-width="0.9"/>
<line x1="482.00" y1="602.80" x2="482.00" y2="605.80" stroke="#aaa" stroke-width="0.9"/>
<rect x="389.10" y="581.50" width="9.60" height="21.30" fill="url(#gb)" stroke="none" stroke-width="1"/>
<rect x="398.70" y="581.50" width="9.60" height="21.30" fill="url(#gr)" stroke="none" stroke-width="1"/>
<line x1="393.90" y1="581.07" x2="393.90" y2="581.93" stroke="#1c2c48" stroke-width="1"/>
<line x1="391.80" y1="581.07" x2="396.00" y2="581.07" stroke="#1c2c48" stroke-width="1"/>
<line x1="391.80" y1="581.93" x2="396.00" y2="581.93" stroke="#1c2c48" stroke-width="1"/>
<line x1="403.50" y1="577.24" x2="403.50" y2="584.48" stroke="#3a2222" stroke-width="1"/>
<line x1="401.40" y1="577.24" x2="405.60" y2="577.24" stroke="#3a2222" stroke-width="1"/>
<line x1="401.40" y1="584.48" x2="405.60" y2="584.48" stroke="#3a2222" stroke-width="1"/>
<text class="r" x="398.70" y="618.30" font-size="10" text-anchor="middle" font-weight="normal" font-style="normal" fill="#111">IgG</text>
<rect x="422.70" y="536.34" width="9.60" height="66.46" fill="url(#gb)" stroke="none" stroke-width="1"/>
<rect x="432.30" y="576.39" width="9.60" height="26.41" fill="url(#gr)" stroke="none" stroke-width="1"/>
<line x1="427.50" y1="531.23" x2="427.50" y2="540.18" stroke="#1c2c48" stroke-width="1"/>
<line x1="425.40" y1="531.23" x2="429.60" y2="531.23" stroke="#1c2c48" stroke-width="1"/>
<line x1="425.40" y1="540.18" x2="429.60" y2="540.18" stroke="#1c2c48" stroke-width="1"/>
<line x1="437.10" y1="571.91" x2="437.10" y2="580.65" stroke="#3a2222" stroke-width="1"/>
<line x1="435.00" y1="571.91" x2="439.20" y2="571.91" stroke="#3a2222" stroke-width="1"/>
<line x1="435.00" y1="580.65" x2="439.20" y2="580.65" stroke="#3a2222" stroke-width="1"/>
<text class="r" x="432.30" y="618.30" font-size="10" text-anchor="middle" font-weight="normal" font-style="normal" fill="#111">Ab1</text>
<rect x="456.30" y="474.36" width="9.60" height="128.44" fill="url(#gb)" stroke="none" stroke-width="1"/>
<rect x="465.90" y="571.49" width="9.60" height="31.31" fill="url(#gr)" stroke="none" stroke-width="1"/>
<line x1="461.10" y1="459.88" x2="461.10" y2="489.27" stroke="#1c2c48" stroke-width="1"/>
<line x1="459.00" y1="459.88" x2="463.20" y2="459.88" stroke="#1c2c48" stroke-width="1"/>
<line x1="459.00" y1="489.27" x2="463.20" y2="489.27" stroke="#1c2c48" stroke-width="1"/>
<line x1="470.70" y1="569.57" x2="470.70" y2="572.98" stroke="#3a2222" stroke-width="1"/>
<line x1="468.60" y1="569.57" x2="472.80" y2="569.57" stroke="#3a2222" stroke-width="1"/>
<line x1="468.60" y1="572.98" x2="472.80" y2="572.98" stroke="#3a2222" stroke-width="1"/>
<text class="r" x="465.90" y="618.30" font-size="10" text-anchor="middle" font-weight="normal" font-style="normal" fill="#111">Ab2</text>
<text class="r" x="435.00" y="439.30" font-size="11" text-anchor="middle" font-weight="normal" font-style="italic" fill="#111">RUNX1</text>
<text class="r" x="0.00" y="0.00" font-size="10" text-anchor="middle" font-weight="normal" font-style="normal" fill="#111" transform="translate(367.00,536.00) rotate(-90)">Relative % of Input</text>
<rect x="386.50" y="456.60" width="2.60" height="2.80" fill="#9cb4e0" stroke="none" stroke-width="1"/>
<text class="r" x="390.50" y="461.40" font-size="10" text-anchor="start" font-weight="normal" font-style="normal" fill="#111">shScr</text>
<rect x="386.50" y="472.90" width="2.60" height="2.80" fill="#d8a09c" stroke="none" stroke-width="1"/>
<text class="r" x="390.50" y="477.70" font-size="10" text-anchor="start" font-weight="normal" font-style="normal" fill="#111">shPRDM11</text>
<text x="6.00" y="652.30" font-size="18" text-anchor="start" font-weight="bold" font-style="normal" fill="#000">F</text>
<circle cx="112.6" cy="708.1" r="69" fill="url(#gred)"/>
<path d="M112.6,708.1 L112.6,639.1 A69,69 0 0 1 163.47,754.72 Z" fill="#ffff33"/>
<g clip-path="url(#cf)"><circle cx="195.7" cy="792.0" r="104.1" fill="#c3cee0" stroke="#7f8fae" stroke-width="1"/></g>
<g clip-path="url(#cred)"><g clip-path="url(#cf)"><circle cx="195.7" cy="792.0" r="104.1" fill="#a06270"/><path d="M112.6,708.1 L112.6,639.1 A69,69 0 0 1 163.47,754.72 Z" fill="#c8c840" clip-path="url(#cblue)"/></g></g>
<circle cx="112.6" cy="708.1" r="69" fill="none" stroke="#8a6f74" stroke-width="0.9"/>
<path d="M112.6,708.1 L112.6,639.1 A69,69 0 0 1 163.47,754.72 Z" fill="none" stroke="#6f6a3a" stroke-width="0.9"/>
<g clip-path="url(#cf)"><circle cx="195.7" cy="792.0" r="104.1" fill="none" stroke="#7d86a0" stroke-width="1"/></g>
<text class="r" x="129.00" y="672.00" font-size="10" text-anchor="middle" font-weight="normal" font-style="normal" fill="#2a1414">110</text>
<text class="r" x="73.00" y="720.50" font-size="10" text-anchor="middle" font-weight="normal" font-style="normal" fill="#2a1414">252</text>
<text class="r" x="157.70" y="715.80" font-size="10" text-anchor="middle" font-weight="normal" font-style="normal" fill="#2a1414">70</text>
<text class="r" x="120.80" y="744.40" font-size="10" text-anchor="middle" font-weight="normal" font-style="normal" fill="#2a1414">110</text>
<text class="r" x="0.00" y="0.00" font-size="10" text-anchor="middle" font-weight="normal" font-style="normal" fill="#111" transform="translate(227.00,768.60) scale(1,0.92)">ChIP-seq Ab1</text>
<text class="r" x="0.00" y="0.00" font-size="10" text-anchor="middle" font-weight="normal" font-style="normal" fill="#111" transform="translate(227.50,780.20) scale(1,0.92)">6,409</text>
<rect x="197.60" y="650.70" width="6.00" height="6.00" fill="#e8e844" stroke="#6a6a30" stroke-width="0.7"/>
<text class="r" x="0.00" y="0.00" font-size="10" text-anchor="start" font-weight="normal" font-style="normal" fill="#111" transform="translate(206.50,657.00) scale(1,0.89)">UP</text>
<rect x="197.60" y="670.50" width="6.00" height="6.00" fill="#c87a86" stroke="#8a5a64" stroke-width="0.7"/>
<text class="r" x="0.00" y="0.00" font-size="10" text-anchor="start" font-weight="normal" font-style="normal" fill="#111" transform="translate(206.50,676.80) scale(1,0.89)">DOWN</text>
<text x="9.80" y="829.20" font-size="18.5" text-anchor="start" font-weight="bold" font-style="normal" fill="#000">G</text>
<line x1="48.50" y1="836.32" x2="48.50" y2="972.70" stroke="#aaa" stroke-width="0.9"/>
<line x1="48.50" y1="972.70" x2="165.18" y2="972.70" stroke="#aaa" stroke-width="0.9"/>
<line x1="45.50" y1="972.70" x2="48.50" y2="972.70" stroke="#aaa" stroke-width="0.9"/>
<text class="r" x="43.80" y="976.48" font-size="10.5" text-anchor="end" font-weight="normal" font-style="normal" fill="#111">0</text>
<line x1="45.50" y1="949.97" x2="48.50" y2="949.97" stroke="#aaa" stroke-width="0.9"/>
<text class="r" x="43.80" y="953.75" font-size="10.5" text-anchor="end" font-weight="normal" font-style="normal" fill="#111">1</text>
<line x1="45.50" y1="927.24" x2="48.50" y2="927.24" stroke="#aaa" stroke-width="0.9"/>
<text class="r" x="43.80" y="931.02" font-size="10.5" text-anchor="end" font-weight="normal" font-style="normal" fill="#111">2</text>
<line x1="45.50" y1="904.51" x2="48.50" y2="904.51" stroke="#aaa" stroke-width="0.9"/>
<text class="r" x="43.80" y="908.29" font-size="10.5" text-anchor="end" font-weight="normal" font-style="normal" fill="#111">3</text>
<line x1="45.50" y1="881.78" x2="48.50" y2="881.78" stroke="#aaa" stroke-width="0.9"/>
<text class="r" x="43.80" y="885.56" font-size="10.5" text-anchor="end" font-weight="normal" font-style="normal" fill="#111">4</text>
<line x1="45.50" y1="859.05" x2="48.50" y2="859.05" stroke="#aaa" stroke-width="0.9"/>
<text class="r" x="43.80" y="862.83" font-size="10.5" text-anchor="end" font-weight="normal" font-style="normal" fill="#111">5</text>
<line x1="45.50" y1="836.32" x2="48.50" y2="836.32" stroke="#aaa" stroke-width="0.9"/>
<text class="r" x="43.80" y="840.10" font-size="10.5" text-anchor="end" font-weight="normal" font-style="normal" fill="#111">6</text>
<line x1="67.92" y1="972.70" x2="67.92" y2="975.70" stroke="#aaa" stroke-width="0.9"/>
<line x1="87.38" y1="972.70" x2="87.38" y2="975.70" stroke="#aaa" stroke-width="0.9"/>
<line x1="106.83" y1="972.70" x2="106.83" y2="975.70" stroke="#aaa" stroke-width="0.9"/>
<line x1="126.28" y1="972.70" x2="126.28" y2="975.70" stroke="#aaa" stroke-width="0.9"/>
<line x1="145.72" y1="972.70" x2="145.72" y2="975.70" stroke="#aaa" stroke-width="0.9"/>
<line x1="165.18" y1="972.70" x2="165.18" y2="975.70" stroke="#aaa" stroke-width="0.9"/>
<rect x="54.15" y="950.65" width="8.10" height="22.05" fill="#6c91cb" stroke="none" stroke-width="1"/>
<line x1="58.20" y1="947.24" x2="58.20" y2="954.06" stroke="#1a2a4a" stroke-width="1.1"/>
<line x1="55.90" y1="947.24" x2="60.50" y2="947.24" stroke="#1a2a4a" stroke-width="1.1"/>
<line x1="55.90" y1="954.06" x2="60.50" y2="954.06" stroke="#1a2a4a" stroke-width="1.1"/>
<text class="r" x="0.00" y="0.00" font-size="10.3" text-anchor="end" font-weight="normal" font-style="normal" fill="#111" transform="translate(63.60,979.30) rotate(-45)">shScr-1</text>
<rect x="73.60" y="948.15" width="8.10" height="24.55" fill="#6c91cb" stroke="none" stroke-width="1"/>
<line x1="77.65" y1="947.24" x2="77.65" y2="949.06" stroke="#1a2a4a" stroke-width="1.1"/>
<line x1="75.35" y1="947.24" x2="79.95" y2="947.24" stroke="#1a2a4a" stroke-width="1.1"/>
<line x1="75.35" y1="949.06" x2="79.95" y2="949.06" stroke="#1a2a4a" stroke-width="1.1"/>
<text class="r" x="0.00" y="0.00" font-size="10.3" text-anchor="end" font-weight="normal" font-style="normal" fill="#111" transform="translate(83.05,979.30) rotate(-45)">shScr-2</text>
<rect x="93.05" y="946.56" width="8.10" height="26.14" fill="#6c91cb" stroke="none" stroke-width="1"/>
<line x1="97.10" y1="943.61" x2="97.10" y2="948.83" stroke="#1a2a4a" stroke-width="1.1"/>
<line x1="94.80" y1="943.61" x2="99.40" y2="943.61" stroke="#1a2a4a" stroke-width="1.1"/>
<line x1="94.80" y1="948.83" x2="99.40" y2="948.83" stroke="#1a2a4a" stroke-width="1.1"/>
<text class="r" x="0.00" y="0.00" font-size="10.3" text-anchor="end" font-weight="normal" font-style="normal" fill="#111" transform="translate(102.50,979.30) rotate(-45)">shScr-3</text>
<rect x="112.50" y="891.55" width="8.10" height="81.15" fill="#bd5653" stroke="none" stroke-width="1"/>
<line x1="116.55" y1="882.80" x2="116.55" y2="901.19" stroke="#4a1818" stroke-width="1.1"/>
<line x1="114.25" y1="882.80" x2="118.85" y2="882.80" stroke="#4a1818" stroke-width="1.1"/>
<line x1="114.25" y1="901.19" x2="118.85" y2="901.19" stroke="#4a1818" stroke-width="1.1"/>
<text class="r" x="0.00" y="0.00" font-size="10.3" text-anchor="end" font-weight="normal" font-style="normal" fill="#111" transform="translate(121.95,979.30) rotate(-45)">shPR11-1</text>
<rect x="131.95" y="872.01" width="8.10" height="100.69" fill="#bd5653" stroke="none" stroke-width="1"/>
<line x1="136.00" y1="861.55" x2="136.00" y2="882.80" stroke="#4a1818" stroke-width="1.1"/>
<line x1="133.70" y1="861.55" x2="138.30" y2="861.55" stroke="#4a1818" stroke-width="1.1"/>
<line x1="133.70" y1="882.80" x2="138.30" y2="882.80" stroke="#4a1818" stroke-width="1.1"/>
<text class="r" x="0.00" y="0.00" font-size="10.3" text-anchor="end" font-weight="normal" font-style="normal" fill="#111" transform="translate(141.40,979.30) rotate(-45)">shPR11-2</text>
<rect x="151.40" y="904.06" width="8.10" height="68.64" fill="#bd5653" stroke="none" stroke-width="1"/>
<line x1="155.45" y1="902.69" x2="155.45" y2="905.42" stroke="#4a1818" stroke-width="1.1"/>
<line x1="153.15" y1="902.69" x2="157.75" y2="902.69" stroke="#4a1818" stroke-width="1.1"/>
<line x1="153.15" y1="905.42" x2="157.75" y2="905.42" stroke="#4a1818" stroke-width="1.1"/>
<text class="r" x="0.00" y="0.00" font-size="10.3" text-anchor="end" font-weight="normal" font-style="normal" fill="#111" transform="translate(160.85,979.30) rotate(-45)">shPR11-3</text>
<text class="r" x="90.80" y="824.00" font-size="10.4" text-anchor="middle" font-weight="normal" font-style="italic" fill="#111">FOS</text>
<text class="r" x="0.00" y="0.00" font-size="10" text-anchor="middle" font-weight="normal" font-style="normal" fill="#111" transform="translate(19.40,911.00) rotate(-90)">Relative expresssion</text>
<line x1="219.30" y1="838.70" x2="219.30" y2="974.20" stroke="#aaa" stroke-width="0.9"/>
<line x1="219.30" y1="974.20" x2="340.65" y2="974.20" stroke="#aaa" stroke-width="0.9"/>
<line x1="216.30" y1="974.20" x2="219.30" y2="974.20" stroke="#aaa" stroke-width="0.9"/>
<text class="r" x="214.80" y="977.80" font-size="10" text-anchor="end" font-weight="normal" font-style="normal" fill="#111">0</text>
<line x1="216.30" y1="960.65" x2="219.30" y2="960.65" stroke="#aaa" stroke-width="0.9"/>
<text class="r" x="214.80" y="964.25" font-size="10" text-anchor="end" font-weight="normal" font-style="normal" fill="#111">0.2</text>
<line x1="216.30" y1="947.10" x2="219.30" y2="947.10" stroke="#aaa" stroke-width="0.9"/>
<text class="r" x="214.80" y="950.70" font-size="10" text-anchor="end" font-weight="normal" font-style="normal" fill="#111">0.4</text>
<line x1="216.30" y1="933.55" x2="219.30" y2="933.55" stroke="#aaa" stroke-width="0.9"/>
<text class="r" x="214.80" y="937.15" font-size="10" text-anchor="end" font-weight="normal" font-style="normal" fill="#111">0.6</text>
<line x1="216.30" y1="920.00" x2="219.30" y2="920.00" stroke="#aaa" stroke-width="0.9"/>
<text class="r" x="214.80" y="923.60" font-size="10" text-anchor="end" font-weight="normal" font-style="normal" fill="#111">0.8</text>
<line x1="216.30" y1="906.45" x2="219.30" y2="906.45" stroke="#aaa" stroke-width="0.9"/>
<text class="r" x="214.80" y="910.05" font-size="10" text-anchor="end" font-weight="normal" font-style="normal" fill="#111">1</text>
<line x1="216.30" y1="892.90" x2="219.30" y2="892.90" stroke="#aaa" stroke-width="0.9"/>
<text class="r" x="214.80" y="896.50" font-size="10" text-anchor="end" font-weight="normal" font-style="normal" fill="#111">1.2</text>
<line x1="216.30" y1="879.35" x2="219.30" y2="879.35" stroke="#aaa" stroke-width="0.9"/>
<text class="r" x="214.80" y="882.95" font-size="10" text-anchor="end" font-weight="normal" font-style="normal" fill="#111">1.4</text>
<line x1="216.30" y1="865.80" x2="219.30" y2="865.80" stroke="#aaa" stroke-width="0.9"/>
<text class="r" x="214.80" y="869.40" font-size="10" text-anchor="end" font-weight="normal" font-style="normal" fill="#111">1.6</text>
<line x1="216.30" y1="852.25" x2="219.30" y2="852.25" stroke="#aaa" stroke-width="0.9"/>
<text class="r" x="214.80" y="855.85" font-size="10" text-anchor="end" font-weight="normal" font-style="normal" fill="#111">1.8</text>
<line x1="216.30" y1="838.70" x2="219.30" y2="838.70" stroke="#aaa" stroke-width="0.9"/>
<text class="r" x="214.80" y="842.30" font-size="10" text-anchor="end" font-weight="normal" font-style="normal" fill="#111">2</text>
<line x1="240.15" y1="974.20" x2="240.15" y2="977.20" stroke="#aaa" stroke-width="0.9"/>
<line x1="260.25" y1="974.20" x2="260.25" y2="977.20" stroke="#aaa" stroke-width="0.9"/>
<line x1="280.35" y1="974.20" x2="280.35" y2="977.20" stroke="#aaa" stroke-width="0.9"/>
<line x1="300.45" y1="974.20" x2="300.45" y2="977.20" stroke="#aaa" stroke-width="0.9"/>
<line x1="320.55" y1="974.20" x2="320.55" y2="977.20" stroke="#aaa" stroke-width="0.9"/>
<line x1="340.65" y1="974.20" x2="340.65" y2="977.20" stroke="#aaa" stroke-width="0.9"/>
<rect x="226.05" y="907.13" width="8.10" height="67.07" fill="#6c91cb" stroke="none" stroke-width="1"/>
<line x1="230.10" y1="902.38" x2="230.10" y2="911.19" stroke="#1a2a4a" stroke-width="1.1"/>
<line x1="227.80" y1="902.38" x2="232.40" y2="902.38" stroke="#1a2a4a" stroke-width="1.1"/>
<line x1="227.80" y1="911.19" x2="232.40" y2="911.19" stroke="#1a2a4a" stroke-width="1.1"/>
<text class="r" x="0.00" y="0.00" font-size="10.3" text-anchor="end" font-weight="normal" font-style="normal" fill="#111" transform="translate(235.50,980.80) rotate(-45)">shScr-1</text>
<rect x="246.15" y="910.52" width="8.10" height="63.68" fill="#6c91cb" stroke="none" stroke-width="1"/>
<line x1="250.20" y1="905.10" x2="250.20" y2="915.94" stroke="#1a2a4a" stroke-width="1.1"/>
<line x1="247.90" y1="905.10" x2="252.50" y2="905.10" stroke="#1a2a4a" stroke-width="1.1"/>
<line x1="247.90" y1="915.94" x2="252.50" y2="915.94" stroke="#1a2a4a" stroke-width="1.1"/>
<text class="r" x="0.00" y="0.00" font-size="10.3" text-anchor="end" font-weight="normal" font-style="normal" fill="#111" transform="translate(255.60,980.80) rotate(-45)">shScr-2</text>
<rect x="266.25" y="915.26" width="8.10" height="58.94" fill="#6c91cb" stroke="none" stroke-width="1"/>
<line x1="270.30" y1="913.23" x2="270.30" y2="917.29" stroke="#1a2a4a" stroke-width="1.1"/>
<line x1="268.00" y1="913.23" x2="272.60" y2="913.23" stroke="#1a2a4a" stroke-width="1.1"/>
<line x1="268.00" y1="917.29" x2="272.60" y2="917.29" stroke="#1a2a4a" stroke-width="1.1"/>
<text class="r" x="0.00" y="0.00" font-size="10.3" text-anchor="end" font-weight="normal" font-style="normal" fill="#111" transform="translate(275.70,980.80) rotate(-45)">shScr-3</text>
<rect x="286.35" y="865.80" width="8.10" height="108.40" fill="#bd5653" stroke="none" stroke-width="1"/>
<line x1="290.40" y1="861.74" x2="290.40" y2="868.51" stroke="#4a1818" stroke-width="1.1"/>
<line x1="288.10" y1="861.74" x2="292.70" y2="861.74" stroke="#4a1818" stroke-width="1.1"/>
<line x1="288.10" y1="868.51" x2="292.70" y2="868.51" stroke="#4a1818" stroke-width="1.1"/>
<text class="r" x="0.00" y="0.00" font-size="10.3" text-anchor="end" font-weight="normal" font-style="normal" fill="#111" transform="translate(295.80,980.80) rotate(-45)">shPR11-1</text>
<rect x="306.45" y="865.80" width="8.10" height="108.40" fill="#bd5653" stroke="none" stroke-width="1"/>
<line x1="310.50" y1="860.38" x2="310.50" y2="872.58" stroke="#4a1818" stroke-width="1.1"/>
<line x1="308.20" y1="860.38" x2="312.80" y2="860.38" stroke="#4a1818" stroke-width="1.1"/>
<line x1="308.20" y1="872.58" x2="312.80" y2="872.58" stroke="#4a1818" stroke-width="1.1"/>
<text class="r" x="0.00" y="0.00" font-size="10.3" text-anchor="end" font-weight="normal" font-style="normal" fill="#111" transform="translate(315.90,980.80) rotate(-45)">shPR11-2</text>
<rect x="326.55" y="855.64" width="8.10" height="118.56" fill="#bd5653" stroke="none" stroke-width="1"/>
<line x1="330.60" y1="852.25" x2="330.60" y2="858.35" stroke="#4a1818" stroke-width="1.1"/>
<line x1="328.30" y1="852.25" x2="332.90" y2="852.25" stroke="#4a1818" stroke-width="1.1"/>
<line x1="328.30" y1="858.35" x2="332.90" y2="858.35" stroke="#4a1818" stroke-width="1.1"/>
<text class="r" x="0.00" y="0.00" font-size="10.3" text-anchor="end" font-weight="normal" font-style="normal" fill="#111" transform="translate(336.00,980.80) rotate(-45)">shPR11-3</text>
<text class="r" x="261.30" y="827.00" font-size="10.4" text-anchor="middle" font-weight="normal" font-style="italic" fill="#111">JUN</text>
<text class="r" x="0.00" y="0.00" font-size="10" text-anchor="middle" font-weight="normal" font-style="normal" fill="#111" transform="translate(191.60,913.30) rotate(-90)">Relative expresssion</text>
<line x1="396.20" y1="840.22" x2="396.20" y2="977.20" stroke="#aaa" stroke-width="0.9"/>
<line x1="396.20" y1="977.20" x2="518.65" y2="977.20" stroke="#aaa" stroke-width="0.9"/>
<line x1="393.20" y1="977.20" x2="396.20" y2="977.20" stroke="#aaa" stroke-width="0.9"/>
<text class="r" x="392.80" y="980.80" font-size="10" text-anchor="end" font-weight="normal" font-style="normal" fill="#111">0</text>
<line x1="393.20" y1="954.37" x2="396.20" y2="954.37" stroke="#aaa" stroke-width="0.9"/>
<text class="r" x="392.80" y="957.97" font-size="10" text-anchor="end" font-weight="normal" font-style="normal" fill="#111">0.5</text>
<line x1="393.20" y1="931.54" x2="396.20" y2="931.54" stroke="#aaa" stroke-width="0.9"/>
<text class="r" x="392.80" y="935.14" font-size="10" text-anchor="end" font-weight="normal" font-style="normal" fill="#111">1</text>
<line x1="393.20" y1="908.71" x2="396.20" y2="908.71" stroke="#aaa" stroke-width="0.9"/>
<text class="r" x="392.80" y="912.31" font-size="10" text-anchor="end" font-weight="normal" font-style="normal" fill="#111">1.5</text>
<line x1="393.20" y1="885.88" x2="396.20" y2="885.88" stroke="#aaa" stroke-width="0.9"/>
<text class="r" x="392.80" y="889.48" font-size="10" text-anchor="end" font-weight="normal" font-style="normal" fill="#111">2</text>
<line x1="393.20" y1="863.05" x2="396.20" y2="863.05" stroke="#aaa" stroke-width="0.9"/>
<text class="r" x="392.80" y="866.65" font-size="10" text-anchor="end" font-weight="normal" font-style="normal" fill="#111">2.5</text>
<line x1="393.20" y1="840.22" x2="396.20" y2="840.22" stroke="#aaa" stroke-width="0.9"/>
<text class="r" x="392.80" y="843.82" font-size="10" text-anchor="end" font-weight="normal" font-style="normal" fill="#111">3</text>
<line x1="417.15" y1="977.20" x2="417.15" y2="980.20" stroke="#aaa" stroke-width="0.9"/>
<line x1="437.45" y1="977.20" x2="437.45" y2="980.20" stroke="#aaa" stroke-width="0.9"/>
<line x1="457.75" y1="977.20" x2="457.75" y2="980.20" stroke="#aaa" stroke-width="0.9"/>
<line x1="478.05" y1="977.20" x2="478.05" y2="980.20" stroke="#aaa" stroke-width="0.9"/>
<line x1="498.35" y1="977.20" x2="498.35" y2="980.20" stroke="#aaa" stroke-width="0.9"/>
<line x1="518.65" y1="977.20" x2="518.65" y2="980.20" stroke="#aaa" stroke-width="0.9"/>
<rect x="402.95" y="931.54" width="8.10" height="45.66" fill="#6c91cb" stroke="none" stroke-width="1"/>
<line x1="407.00" y1="926.52" x2="407.00" y2="936.56" stroke="#1a2a4a" stroke-width="1.1"/>
<line x1="404.70" y1="926.52" x2="409.30" y2="926.52" stroke="#1a2a4a" stroke-width="1.1"/>
<line x1="404.70" y1="936.56" x2="409.30" y2="936.56" stroke="#1a2a4a" stroke-width="1.1"/>
<text class="r" x="0.00" y="0.00" font-size="10.3" text-anchor="end" font-weight="normal" font-style="normal" fill="#111" transform="translate(412.40,983.80) rotate(-45)">shScr-1</text>
<rect x="423.25" y="928.80" width="8.10" height="48.40" fill="#6c91cb" stroke="none" stroke-width="1"/>
<line x1="427.30" y1="926.06" x2="427.30" y2="930.63" stroke="#1a2a4a" stroke-width="1.1"/>
<line x1="425.00" y1="926.06" x2="429.60" y2="926.06" stroke="#1a2a4a" stroke-width="1.1"/>
<line x1="425.00" y1="930.63" x2="429.60" y2="930.63" stroke="#1a2a4a" stroke-width="1.1"/>
<text class="r" x="0.00" y="0.00" font-size="10.3" text-anchor="end" font-weight="normal" font-style="normal" fill="#111" transform="translate(432.70,983.80) rotate(-45)">shScr-2</text>
<rect x="443.55" y="920.12" width="8.10" height="57.07" fill="#6c91cb" stroke="none" stroke-width="1"/>
<line x1="447.60" y1="917.84" x2="447.60" y2="922.86" stroke="#1a2a4a" stroke-width="1.1"/>
<line x1="445.30" y1="917.84" x2="449.90" y2="917.84" stroke="#1a2a4a" stroke-width="1.1"/>
<line x1="445.30" y1="922.86" x2="449.90" y2="922.86" stroke="#1a2a4a" stroke-width="1.1"/>
<text class="r" x="0.00" y="0.00" font-size="10.3" text-anchor="end" font-weight="normal" font-style="normal" fill="#111" transform="translate(453.00,983.80) rotate(-45)">shScr-3</text>
<rect x="463.85" y="864.42" width="8.10" height="112.78" fill="#bd5653" stroke="none" stroke-width="1"/>
<line x1="467.90" y1="862.14" x2="467.90" y2="866.25" stroke="#4a1818" stroke-width="1.1"/>
<line x1="465.60" y1="862.14" x2="470.20" y2="862.14" stroke="#4a1818" stroke-width="1.1"/>
<line x1="465.60" y1="866.25" x2="470.20" y2="866.25" stroke="#4a1818" stroke-width="1.1"/>
<text class="r" x="0.00" y="0.00" font-size="10.3" text-anchor="end" font-weight="normal" font-style="normal" fill="#111" transform="translate(473.30,983.80) rotate(-45)">shPR11-1</text>
<rect x="484.15" y="861.68" width="8.10" height="115.52" fill="#bd5653" stroke="none" stroke-width="1"/>
<line x1="488.20" y1="854.83" x2="488.20" y2="868.53" stroke="#4a1818" stroke-width="1.1"/>
<line x1="485.90" y1="854.83" x2="490.50" y2="854.83" stroke="#4a1818" stroke-width="1.1"/>
<line x1="485.90" y1="868.53" x2="490.50" y2="868.53" stroke="#4a1818" stroke-width="1.1"/>
<text class="r" x="0.00" y="0.00" font-size="10.3" text-anchor="end" font-weight="normal" font-style="normal" fill="#111" transform="translate(493.60,983.80) rotate(-45)">shPR11-2</text>
<rect x="504.45" y="850.27" width="8.10" height="126.93" fill="#bd5653" stroke="none" stroke-width="1"/>
<line x1="508.50" y1="849.81" x2="508.50" y2="850.72" stroke="#4a1818" stroke-width="1.1"/>
<line x1="506.20" y1="849.81" x2="510.80" y2="849.81" stroke="#4a1818" stroke-width="1.1"/>
<line x1="506.20" y1="850.72" x2="510.80" y2="850.72" stroke="#4a1818" stroke-width="1.1"/>
<text class="r" x="0.00" y="0.00" font-size="10.3" text-anchor="end" font-weight="normal" font-style="normal" fill="#111" transform="translate(513.90,983.80) rotate(-45)">shPR11-3</text>
<text class="r" x="440.50" y="828.50" font-size="9.6" text-anchor="middle" font-weight="normal" font-style="italic" fill="#111">VAV3</text>
<text class="r" x="0.00" y="0.00" font-size="10" text-anchor="middle" font-weight="normal" font-style="normal" fill="#111" transform="translate(368.50,915.10) rotate(-90)">Relative expresssion</text>
</svg></body></html>
